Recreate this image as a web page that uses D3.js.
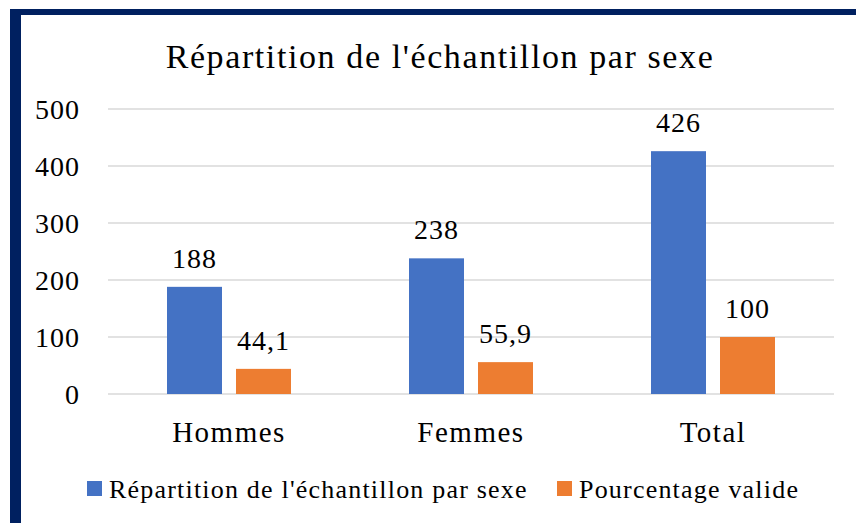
<!DOCTYPE html>
<meta charset="utf-8">
<html>
<head>
<title>Répartition par sexe</title>
</head>
<body style="margin:0">
<div id="chart"></div>
<script src="https://d3js.org/d3.v7.min.js"></script>
<script>

// data
var categories = ["Hommes", "Femmes", "Total"];
var seriesNames = ["Répartition de l'échantillon par sexe", "Pourcentage valide"];
var effectifs = [188, 238, 426];
var pourcentages = [44.1, 55.9, 100];
var yTicks = [0, 100, 200, 300, 400, 500];
var colors = ["#4472C4", "#ED7D31"];

// no serif font shows up here, so widen the fallback a bit
var FONT = "'Liberation Serif', 'Times New Roman', serif";

var W = 856, H = 523;
var margin = {top: 109, right: 22, bottom: 129, left: 108},
    width = 834 - margin.left,
    height = 394 - margin.top;

var svg = d3.select("#chart")
  .append("svg")
    .attr("width", W)
    .attr("height", H)
    .style("font-family", FONT);

// navy frame (top + left edges only visible)
svg.append("rect").attr("x", 10).attr("y", 9).attr("width", W - 10).attr("height", 6).attr("fill", "#002060");
svg.append("rect").attr("x", 10).attr("y", 9).attr("width", 11).attr("height", H - 9).attr("fill", "#002060");

var g = svg.append("g")
  .attr("transform", "translate(" + margin.left + "," + margin.top + ")");

var x = d3.scaleBand().domain(categories).range([0, width]);
var x1 = d3.scaleBand().domain([0, 1]).range([59, 183]).paddingInner(14 / 69);
var y = d3.scaleLinear().domain([0, 500]).range([height, 0]);

// gridlines
g.selectAll(".grid")
  .data(yTicks)
  .enter().append("line")
    .attr("x1", 0).attr("x2", width)
    .attr("y1", function(d) { return y(d); })
    .attr("y2", function(d) { return y(d); })
    .attr("stroke", "#d9d9d9")
    .attr("stroke-width", 1.3);

// y labels
g.selectAll(".ylab")
  .data(yTicks)
  .enter().append("text")
    .attr("x", -28)
    .attr("y", function(d) { return y(d); })
    .attr("dy", "0.35em")
    .attr("text-anchor", "end")
    .style("font-size", "28px")
    .style("letter-spacing", "1px")
    .text(function(d) { return d; });

// x labels
g.selectAll(".xlab")
  .data(categories)
  .enter().append("text")
    .attr("x", function(d) { return x(d) + x.bandwidth() / 2; })
    .attr("y", height + 38)
    .attr("dy", "0.35em")
    .attr("text-anchor", "middle")
    .style("font-size", "29px")
    .style("letter-spacing", "1.5px")
    .text(function(d) { return d; });

var series = [effectifs, pourcentages];
var fmt = function(v) { return (Number.isInteger(v) ? String(v) : v.toFixed(1)).replace(".", ","); };

series.forEach(function(vals, s) {
  g.selectAll(".bar" + s)
    .data(vals)
    .enter().append("rect")
      .attr("x", function(d, i) { return x(categories[i]) + x1(s); })
      .attr("width", x1.bandwidth())
      .attr("y", function(d) { return y(d); })
      .attr("height", function(d) { return height - y(d); })
      .attr("fill", colors[s]);

  g.selectAll(".lab" + s)
    .data(vals)
    .enter().append("text")
      .attr("x", function(d, i) { return x(categories[i]) + x1(s) + x1.bandwidth() / 2; })
      .attr("y", function(d) { return y(d) - 19; })
      .attr("text-anchor", "middle")
      .style("font-size", "28px")
      .style("letter-spacing", "1px")
      .text(function(d) { return fmt(d); });
});

// title
svg.append("text")
  .attr("x", 440)
  .attr("y", 56)
  .attr("dy", "0.35em")
  .attr("text-anchor", "middle")
  .style("font-size", "34px")
  .style("letter-spacing", "1.6px")
  .text("Répartition de l'échantillon par sexe");

// legend
var legendX = [87, 557];
var legend = svg.selectAll(".legend")
  .data(seriesNames)
  .enter().append("g")
    .attr("transform", function(d, i) { return "translate(" + legendX[i] + ",489)"; });
legend.append("rect")
  .attr("x", 0).attr("y", -8)
  .attr("width", 15).attr("height", 15)
  .attr("fill", function(d, i) { return colors[i]; });
legend.append("text")
  .attr("x", 22)
  .attr("y", 0)
  .attr("dy", "0.35em")
  .style("font-size", "26px")
  .style("letter-spacing", "1.2px")
  .text(function(d) { return d; });

</script>
</body>
</html>
